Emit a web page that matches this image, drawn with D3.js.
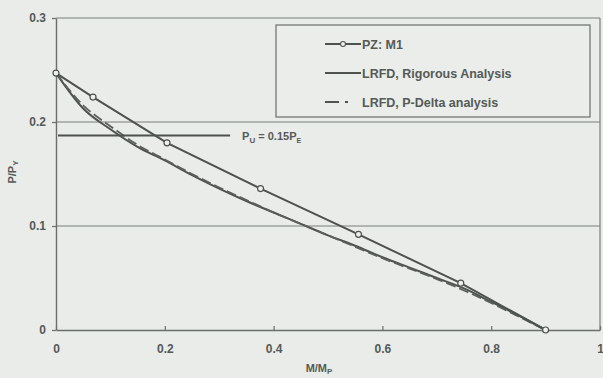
<!DOCTYPE html>
<html>
<head>
<meta charset="utf-8">
<script src="https://cdn.jsdelivr.net/npm/d3@7"></script>
<style>
  body { margin: 0; background: #e9ece9; }
  svg { display: block; font-family: "Liberation Sans", Arial, sans-serif; }
</style>
</head>
<body>
<div id="chart"></div>
<script>
// PZ: M1 (open circles)
const pzX = [0, 0.068, 0.204, 0.376, 0.556, 0.744, 0.9];
const pzY = [0.247, 0.224, 0.180, 0.136, 0.092, 0.045, 0];

// LRFD curves
const lrfdX = [0, 0.05, 0.1, 0.15, 0.2, 0.25, 0.3, 0.35, 0.4, 0.45, 0.5, 0.55, 0.6, 0.65, 0.7, 0.75, 0.8, 0.85, 0.9];
const rigorousY = [0.247, 0.213, 0.193, 0.176, 0.163, 0.149, 0.136, 0.124, 0.113, 0.102, 0.091, 0.081, 0.070, 0.060, 0.050, 0.040, 0.027, 0.014, 0];
const pDeltaY = [0.247, 0.216, 0.196, 0.178, 0.164, 0.150, 0.137, 0.125, 0.113, 0.102, 0.091, 0.080, 0.069, 0.059, 0.049, 0.038, 0.026, 0.013, 0];

// P_U = 0.15 P_E reference line
const puLevel = 0.187;
const puX = [0, 0.32];

const xTicks = [0, 0.2, 0.4, 0.6, 0.8, 1];
const yTicks = [0, 0.1, 0.2, 0.3];
const legendNames = ['PZ:  M1', 'LRFD, Rigorous Analysis', 'LRFD, P-Delta analysis'];

const W = 603, H = 378;
const margin = {top: 18, right: 3, bottom: 48, left: 56};
const width = W - margin.left - margin.right;
const height = H - margin.top - margin.bottom;
const ink = '#555a57';

const svg = d3.select('#chart').append('svg')
    .attr('width', W).attr('height', H);

const g = svg.append('g')
    .attr('transform', 'translate(' + margin.left + ',' + margin.top + ')');

const x = d3.scaleLinear().domain([0, 1]).range([0, width]);
const y = d3.scaleLinear().domain([0, 0.3]).range([height, 0]);

// gridlines
g.append('g')
    .selectAll('line')
    .data(yTicks.filter(d => d > 0))
    .join('line')
    .attr('x1', 0).attr('x2', width)
    .attr('y1', d => y(d)).attr('y2', d => y(d))
    .attr('stroke', '#7a7f7c').attr('stroke-width', 1.2);

// right border
g.append('line')
    .attr('x1', width).attr('x2', width)
    .attr('y1', 0).attr('y2', height)
    .attr('stroke', '#7a7f7c').attr('stroke-width', 1.2);

// axes
const xAxis = g.append('g')
    .attr('transform', 'translate(0,' + height + ')')
    .call(d3.axisBottom(x).tickValues(xTicks).tickFormat(d => d === 0 || d === 1 ? d : d3.format('.1f')(d)).tickSize(4).tickSizeOuter(0));
const yAxis = g.append('g')
    .call(d3.axisLeft(y).tickValues(yTicks).tickFormat(d => d === 0 ? '0' : d3.format('.1f')(d)).tickSize(4).tickSizeOuter(0));

[xAxis, yAxis].forEach(a => {
    a.select('.domain').attr('stroke', '#6a6f6c').attr('stroke-width', 1.4);
    a.selectAll('.tick line').attr('stroke', '#6a6f6c').attr('stroke-width', 1.2);
    a.selectAll('.tick text').attr('fill', ink).attr('font-size', 12).attr('font-weight', 'bold');
});
xAxis.selectAll('.tick line').attr('y2', 4).attr('transform', 'translate(0,-4)');
xAxis.selectAll('.tick text').attr('y', 14).attr('dy', '0.71em');
yAxis.selectAll('.tick text').attr('x', -10);

// curves
const line = d3.line().x(d => x(d[0])).y(d => y(d[1]));

g.append('path')
    .datum(d3.zip(lrfdX, rigorousY))
    .attr('d', line.curve(d3.curveMonotoneX))
    .attr('fill', 'none').attr('stroke', '#4d524f').attr('stroke-width', 2);

g.append('path')
    .datum(d3.zip(lrfdX, pDeltaY))
    .attr('d', line.curve(d3.curveMonotoneX))
    .attr('fill', 'none').attr('stroke', '#5b605d').attr('stroke-width', 1.8)
    .attr('stroke-dasharray', '10,4');

g.append('path')
    .datum(d3.zip(pzX, pzY))
    .attr('d', line.curve(d3.curveLinear))
    .attr('fill', 'none').attr('stroke', '#4d524f').attr('stroke-width', 2);

g.selectAll('circle.pz')
    .data(d3.zip(pzX, pzY))
    .join('circle')
    .attr('class', 'pz')
    .attr('cx', d => x(d[0])).attr('cy', d => y(d[1]))
    .attr('r', 3)
    .attr('fill', '#eef0ee').attr('stroke', '#4d524f').attr('stroke-width', 1.2);

// P_U line
g.append('line')
    .attr('x1', x(puX[0]) + 2).attr('x2', x(puX[1]))
    .attr('y1', y(puLevel)).attr('y2', y(puLevel))
    .attr('stroke', '#4d524f').attr('stroke-width', 2.2);

const pu = g.append('text')
    .attr('x', x(puX[1]) + 12).attr('y', y(puLevel) + 4)
    .attr('fill', ink).attr('font-size', 11).attr('font-weight', 'bold');
pu.append('tspan').text('P');
pu.append('tspan').text('U').attr('font-size', 8).attr('dy', 3);
pu.append('tspan').text(' = 0.15P').attr('dy', -3);
pu.append('tspan').text('E').attr('font-size', 7).attr('dy', 3);

// legend
const lg = svg.append('g').attr('transform', 'translate(276,25)');
lg.append('rect')
    .attr('width', 314).attr('height', 92)
    .attr('fill', '#eaede9').attr('stroke', '#6a6f6c').attr('stroke-width', 1.2);

const rows = lg.selectAll('g.row')
    .data(legendNames)
    .join('g')
    .attr('class', 'row')
    .attr('transform', (d, i) => 'translate(0,' + (19 + i * 29) + ')');

rows.append('line')
    .attr('x1', 49).attr('x2', 85)
    .attr('stroke', '#4d524f').attr('stroke-width', 2)
    .attr('stroke-dasharray', (d, i) => i === 2 ? '14,6,3,20' : null);

rows.filter((d, i) => i === 0).append('circle')
    .attr('cx', 67).attr('r', 2.5)
    .attr('fill', '#eef0ee').attr('stroke', '#4d524f').attr('stroke-width', 1.1);

rows.append('text')
    .attr('x', 86).attr('y', 4.5)
    .attr('fill', ink).attr('font-size', 12.5).attr('font-weight', 'bold')
    .text(d => d);

// axis titles
const xt = svg.append('text')
    .attr('x', 319).attr('y', 372)
    .attr('text-anchor', 'middle')
    .attr('fill', ink).attr('font-size', 11).attr('font-weight', 'bold');
xt.append('tspan').text('M/M');
xt.append('tspan').text('P').attr('font-size', 8).attr('dy', 2);

const yt = svg.append('text')
    .attr('transform', 'translate(16,172) rotate(-90)')
    .attr('text-anchor', 'middle')
    .attr('fill', ink).attr('font-size', 11).attr('font-weight', 'bold');
yt.append('tspan').text('P/P');
yt.append('tspan').text('Y').attr('font-size', 8).attr('dy', 2);
</script>
</body>
</html>
